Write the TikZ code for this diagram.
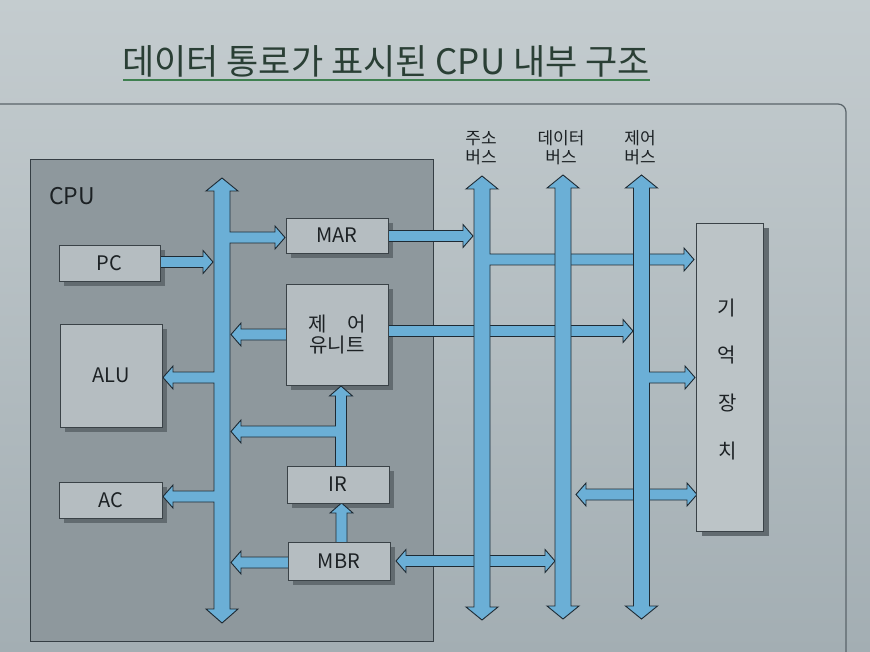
\documentclass[tikz,border=0pt]{standalone}
\usepackage{fontspec}
\newfontfamily\kr{Noto Sans CJK KR}
\definecolor{bgtop}{HTML}{C4CCCF}
\definecolor{bgbot}{HTML}{A3AEB3}
\definecolor{panelline}{HTML}{5A646A}
\definecolor{cpufill}{HTML}{8E989D}
\definecolor{cpuline}{HTML}{353E44}
\definecolor{boxfill}{HTML}{B5BDC1}
\definecolor{memfill}{HTML}{BCC4C7}
\definecolor{boxline}{HTML}{3A4247}
\definecolor{shadowc}{HTML}{626B70}
\definecolor{arrblue}{HTML}{6BAFD6}
\definecolor{arrline}{HTML}{1E2A33}
\definecolor{txt}{HTML}{1C2124}
\definecolor{titletxt}{HTML}{2A3F35}
\definecolor{titleline}{HTML}{3F8050}
\tikzset{
  arr/.style={draw=arrline, line width=0.9pt, fill=arrblue, line join=miter},
  blk/.style={draw=boxline, line width=0.8pt, fill=boxfill, inner sep=0pt, font=\kr\fontsize{20}{23}\selectfont, text=txt},
  shd/.style={fill=shadowc, draw=none},
  buslbl/.style={font=\kr\fontsize{17}{19}\selectfont, text=txt, align=center, inner sep=0pt},
  memlbl/.style={font=\kr\fontsize{20}{22}\selectfont, text=txt, inner sep=0pt}
}
\newcommand\arrR[3]{\draw[arr] (#2,#1-5.5) -- (#3-10,#1-5.5) -- (#3-10,#1-11.5) -- (#3,#1) -- (#3-10,#1+11.5) -- (#3-10,#1+5.5) -- (#2,#1+5.5) -- cycle;}
\newcommand\arrL[3]{\draw[arr] (#2,#1-5.5) -- (#3+10,#1-5.5) -- (#3+10,#1-11.5) -- (#3,#1) -- (#3+10,#1+11.5) -- (#3+10,#1+5.5) -- (#2,#1+5.5) -- cycle;}
\newcommand\arrLR[3]{\draw[arr] (#2,#1) -- (#2+10,#1-11.5) -- (#2+10,#1-5.5) -- (#3-10,#1-5.5) -- (#3-10,#1-11.5) -- (#3,#1) -- (#3-10,#1+11.5) -- (#3-10,#1+5.5) -- (#2+10,#1+5.5) -- (#2+10,#1+11.5) -- cycle;}
\begin{document}
\begin{tikzpicture}[x=1pt,y=-1pt]
\useasboundingbox (0,0) rectangle (870,652);
% background
\shade[top color=bgtop, bottom color=bgbot] (0,0) rectangle (870,652);
% slide panel
\draw[panelline, line width=1.2pt, rounded corners=8pt] (-10,104) -- (846,104) -- (846,700);
% title
\node[font=\kr\fontsize{35}{38}\selectfont, text=titletxt, inner sep=0pt] (title) at (386,61) {데이터 통로가 표시된 CPU 내부 구조};
\draw[titleline, line width=1.6pt] (123,80) -- (650,80);
% CPU box
\node[draw=cpuline, line width=0.9pt, fill=cpufill, minimum width=403pt, minimum height=482pt, inner sep=0pt] (cpu) at (231.5,400) {};
\node[font=\kr\fontsize{23}{26}\selectfont, text=txt, inner sep=0pt] (cpulbl) at (72,196) {CPU};
% shadows
\fill[shd] (64,250) rectangle (165,286);
\fill[shd] (65,329) rectangle (167,432);
\fill[shd] (64,487) rectangle (167,523);
\fill[shd] (291,223) rectangle (393,258);
\fill[shd] (291,289) rectangle (393,390);
\fill[shd] (292,471) rectangle (394,508);
\fill[shd] (293,547) rectangle (395,585);
\fill[shd] (702,228) rectangle (769,536);
% horizontal arrows crossing the buses
\arrR{236}{386}{473}
\arrR{331}{386}{633}
\arrLR{561}{396}{555}
\arrLR{494.5}{576}{697}
% address bus with branch to memory
\draw[arr] (482,176) -- (498,189) -- (490,189) -- (490,254) -- (684,254) -- (684,248) -- (694,259.5) -- (684,271) -- (684,265) -- (490,265) -- (490,607) -- (498,607) -- (482,620) -- (466,607) -- (474,607) -- (474,189) -- (466,189) -- cycle;
% data bus
\draw[arr] (563,175) -- (579,188) -- (571,188) -- (571,606) -- (579,606) -- (563,619) -- (547,606) -- (555,606) -- (555,188) -- (547,188) -- cycle;
% control bus with branch to memory
\draw[arr] (641.5,175) -- (657.5,188) -- (649.5,188) -- (649.5,372) -- (685,372) -- (685,366) -- (695,377.5) -- (685,389) -- (685,383) -- (649.5,383) -- (649.5,606) -- (657.5,606) -- (641.5,619) -- (625.5,606) -- (633.5,606) -- (633.5,188) -- (625.5,188) -- cycle;
% internal bus
\draw[arr] (222,178) -- (238,191) -- (230,191) -- (230,232) -- (275,232) -- (275,226) -- (285,237.5) -- (275,249) -- (275,243) -- (230,243) -- (230,609) -- (238,609) -- (222,623) -- (206,609) -- (214,609) -- (214,502) -- (173,502) -- (173,508) -- (163,496.5) -- (173,485) -- (173,491) -- (214,491) -- (214,383) -- (173,383) -- (173,389) -- (163,377.5) -- (173,366) -- (173,372) -- (214,372) -- (214,191) -- (206,191) -- cycle;
% IR to control unit, branch to internal bus
\draw[arr] (346.5,468) -- (346.5,396) -- (352.5,396) -- (341,386) -- (329.5,396) -- (335.5,396) -- (335.5,426) -- (241,426) -- (241,420) -- (231,431.5) -- (241,443) -- (241,437) -- (335.5,437) -- (335.5,468) -- cycle;
% MBR to IR
\draw[arr] (336,544) -- (336,513) -- (330,513) -- (341.5,503) -- (353,513) -- (347,513) -- (347,544) -- cycle;
% other arrows to the internal bus
\arrL{562.5}{290}{231}
\arrL{334.5}{288}{231}
\arrR{262}{158}{213}
% boxes
\node[blk, minimum width=101pt, minimum height=36pt] (pc) at (109.5,263) {PC};
\node[blk, minimum width=102pt, minimum height=103pt] (alu) at (111,375.5) {ALU};
\node[blk, minimum width=103pt, minimum height=36pt] (ac) at (111,500) {AC};
\node[blk, minimum width=102pt, minimum height=35pt] (mar) at (337,235.5) {MAR};
\node[blk, minimum width=102pt, minimum height=101pt, align=center] (cu) at (337,334.5) {제\hspace{1em}어\\[-2pt]유니트};
\node[blk, minimum width=102pt, minimum height=37pt] (ir) at (338,484.5) {IR};
\node[blk, minimum width=102pt, minimum height=38pt] (mbr) at (339,561) {MBR};
\node[blk, fill=memfill, minimum width=67pt, minimum height=308pt] (mem) at (729.5,377) {};
\node[memlbl] (m1) at (727,308) {기};
\node[memlbl] (m2) at (727,355) {억};
\node[memlbl] (m3) at (728,403) {장};
\node[memlbl] (m4) at (728,451) {치};
% bus labels
\node[buslbl] (lab1) at (481,148) {주소\\버스};
\node[buslbl] (lab2) at (561,148) {데이터\\버스};
\node[buslbl] (lab3) at (640,148) {제어\\버스};
\end{tikzpicture}
\end{document}
